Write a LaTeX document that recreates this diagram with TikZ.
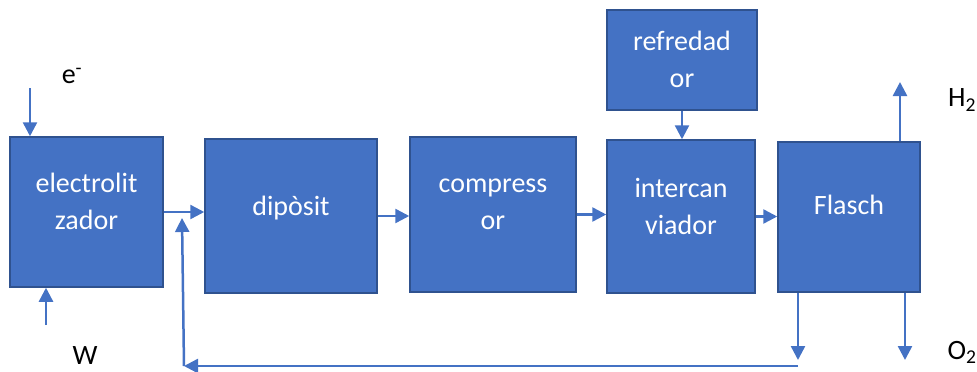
\documentclass[tikz,border=0pt]{standalone}
\usepackage{fontspec}
\setmainfont{Carlito}
\usetikzlibrary{arrows.meta}
\definecolor{boxblue}{HTML}{4472C4}
\definecolor{boxedge}{HTML}{2F528F}

\begin{document}
\begin{tikzpicture}
		[x=1pt,y=-1pt,
		blk/.style={rectangle,fill=boxblue,draw=boxedge,line width=1.5pt,text=white,align=center,inner sep=0pt,text depth=21pt,font=\fontsize{28}{37}\selectfont},
		flow/.style={draw=boxblue,line width=2.5pt,-{Triangle[length=14pt,width=14pt]}},
		lbl/.style={font=\fontsize{28}{34}\selectfont}]
		\useasboundingbox (0,0) rectangle (977,372);
		\node[blk,minimum width=153pt,minimum height=150pt] (elec)  at (86.5,212) {electrolit\\zador};
		\node[blk,minimum width=172pt,minimum height=154pt] (dipo)  at (291,216) {dipòsit};
		\node[blk,minimum width=166pt,minimum height=155pt] (comp)  at (493,214.5) {compress\\or};
		\node[blk,minimum width=148pt,minimum height=153pt] (inter) at (681,216.5) {intercan\\viador};
		\node[blk,minimum width=150pt,minimum height=100pt,text depth=2pt] (refr) at (682,60) {refredad\\or};
		\node[blk,minimum width=142pt,minimum height=150pt,text depth=24pt] (flash) at (849,217) {Flasch};
		
		\node[lbl] (eLbl) at (72,76)   {e\textsuperscript{-}};
		\node[lbl] (wLbl) at (85,356)  {W};
		\node[lbl] (hLbl) at (962,100) {H\textsubscript{2}};
		\node[lbl] (oLbl) at (962,352) {O\textsubscript{2}};
		
		\coordinate (eIn)   at (30,88);
		\coordinate (wIn)   at (46,325);
		\coordinate (h2Out) at (900,82);
		\coordinate (o2Out) at (905,360);
		\coordinate (retA)  at (798,360);
		\coordinate (retB)  at (184,366);
		\coordinate (retC)  at (182,218);
		
		\draw[flow] (eIn) -- (eIn |- elec.north);
		\draw[flow] (wIn) -- (wIn |- elec.south);
		\foreach \from/\to in {elec/dipo,dipo/comp,comp/inter,inter/flash}
		\draw[flow] (\from.east) -- (\from.east -| \to.west);
		\draw[flow] (refr.south) -- (refr.south |- inter.north);
		\draw[flow] (h2Out |- flash.north) -- (h2Out);
		\draw[flow] (o2Out |- flash.south) -- (o2Out);
		\draw[flow] (retA |- flash.south) -- (retA);
		\draw[flow] (retA |- retB) -- (retB);
		\draw[flow] (retB) -- (retC);
\end{tikzpicture}
\end{document}
